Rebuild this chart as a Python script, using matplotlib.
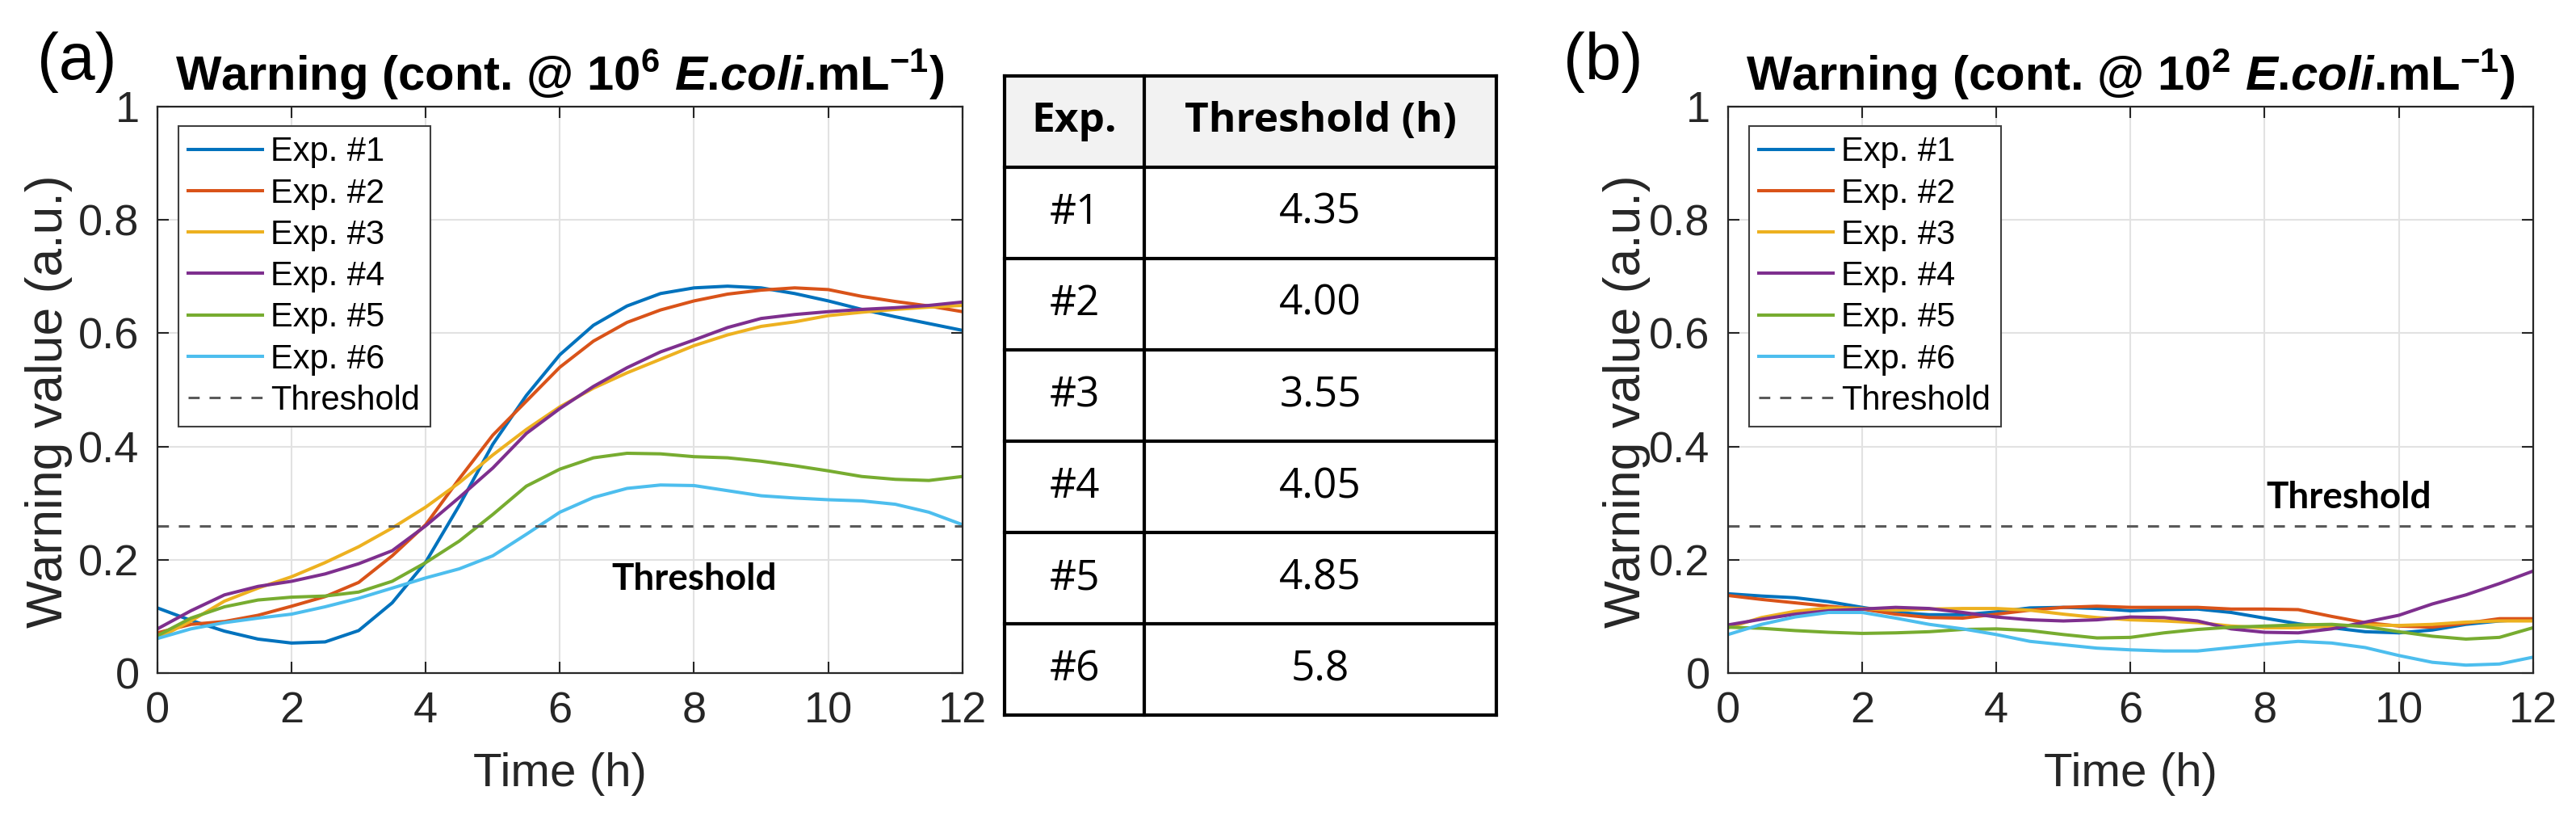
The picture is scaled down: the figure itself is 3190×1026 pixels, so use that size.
import matplotlib.pyplot as plt
from matplotlib.patches import Rectangle

plt.rcParams['font.family'] = ['Liberation Sans', 'DejaVu Sans']
plt.rcParams['mathtext.fontset'] = 'custom'
plt.rcParams['mathtext.default'] = 'regular'
plt.rcParams['mathtext.rm'] = 'Liberation Sans:bold'
plt.rcParams['mathtext.it'] = 'Liberation Sans:bold:italic'
plt.rcParams['mathtext.bf'] = 'Liberation Sans:bold'

# --- data ---
time_h = [0, 0.5, 1, 1.5, 2, 2.5, 3, 3.5, 4, 4.5, 5, 5.5, 6,
          6.5, 7, 7.5, 8, 8.5, 9, 9.5, 10, 10.5, 11, 11.5, 12]

exp_labels = ['Exp. #1', 'Exp. #2', 'Exp. #3', 'Exp. #4', 'Exp. #5', 'Exp. #6']
exp_colors = ['#0072BD', '#D95319', '#EDB120', '#7E2F8E', '#77AC30', '#4DBEEE']
threshold = 0.26

# (a) contamination @ 10^6 E.coli/mL
a_exp1 = [0.115, 0.093, 0.074, 0.060, 0.053, 0.055, 0.075, 0.124, 0.196, 0.296, 0.404, 0.490, 0.562,
          0.614, 0.648, 0.670, 0.680, 0.683, 0.680, 0.670, 0.657, 0.642, 0.629, 0.617, 0.605]
a_exp2 = [0.071, 0.086, 0.091, 0.102, 0.118, 0.135, 0.160, 0.207, 0.262, 0.343, 0.420, 0.480, 0.540,
          0.586, 0.619, 0.641, 0.657, 0.669, 0.676, 0.680, 0.677, 0.665, 0.656, 0.648, 0.638]
a_exp3 = [0.061, 0.092, 0.127, 0.150, 0.170, 0.195, 0.223, 0.256, 0.293, 0.336, 0.385, 0.430, 0.470,
          0.503, 0.530, 0.554, 0.578, 0.597, 0.612, 0.620, 0.631, 0.637, 0.642, 0.646, 0.649]
a_exp4 = [0.078, 0.110, 0.138, 0.153, 0.162, 0.175, 0.193, 0.216, 0.260, 0.310, 0.362, 0.423, 0.467,
          0.506, 0.539, 0.567, 0.588, 0.610, 0.626, 0.633, 0.638, 0.642, 0.645, 0.649, 0.655]
a_exp5 = [0.066, 0.097, 0.117, 0.129, 0.134, 0.136, 0.143, 0.162, 0.195, 0.233, 0.280, 0.330, 0.360,
          0.380, 0.388, 0.387, 0.382, 0.380, 0.374, 0.366, 0.357, 0.347, 0.342, 0.340, 0.347]
a_exp6 = [0.061, 0.078, 0.089, 0.097, 0.104, 0.117, 0.132, 0.150, 0.168, 0.184, 0.207, 0.245, 0.284,
          0.310, 0.326, 0.332, 0.331, 0.322, 0.313, 0.309, 0.306, 0.304, 0.298, 0.284, 0.262]

# (b) contamination @ 10^2 E.coli/mL
b_exp1 = [0.140, 0.136, 0.133, 0.126, 0.116, 0.107, 0.103, 0.103, 0.108, 0.115, 0.116, 0.114, 0.110,
          0.112, 0.113, 0.107, 0.097, 0.087, 0.080, 0.073, 0.071, 0.076, 0.086, 0.092, 0.095]
b_exp2 = [0.137, 0.130, 0.124, 0.118, 0.113, 0.104, 0.098, 0.097, 0.104, 0.111, 0.116, 0.118, 0.116,
          0.116, 0.116, 0.113, 0.113, 0.112, 0.100, 0.089, 0.083, 0.081, 0.088, 0.096, 0.096]
b_exp3 = [0.080, 0.098, 0.109, 0.115, 0.114, 0.111, 0.113, 0.114, 0.114, 0.111, 0.104, 0.098, 0.094,
          0.092, 0.089, 0.083, 0.080, 0.080, 0.083, 0.085, 0.084, 0.086, 0.090, 0.092, 0.092]
b_exp4 = [0.085, 0.095, 0.104, 0.110, 0.113, 0.116, 0.114, 0.107, 0.099, 0.094, 0.092, 0.094, 0.099,
          0.098, 0.092, 0.078, 0.072, 0.071, 0.078, 0.090, 0.102, 0.122, 0.138, 0.158, 0.180]
b_exp5 = [0.081, 0.079, 0.075, 0.072, 0.070, 0.071, 0.073, 0.077, 0.078, 0.075, 0.068, 0.062, 0.063,
          0.071, 0.077, 0.081, 0.083, 0.085, 0.086, 0.082, 0.073, 0.065, 0.060, 0.063, 0.080]
b_exp6 = [0.068, 0.086, 0.099, 0.107, 0.107, 0.097, 0.086, 0.078, 0.068, 0.056, 0.050, 0.044, 0.041,
          0.039, 0.039, 0.045, 0.051, 0.056, 0.053, 0.045, 0.031, 0.019, 0.014, 0.016, 0.028]

table_header = ['Exp.', 'Threshold (h)']
table_exp = ['#1', '#2', '#3', '#4', '#5', '#6']
table_time = ['4.35', '4.00', '3.55', '4.05', '4.85', '5.8']

xticks = [0, 2, 4, 6, 8, 10, 12]
yticks = [0, 0.2, 0.4, 0.6, 0.8, 1]
yticklabels = ['0', '0.2', '0.4', '0.6', '0.8', '1']

DARK = '#262626'


def plot_panel(ax, series, title, thr_xy, ylabel_x):
    for y, lab, col in zip(series, exp_labels, exp_colors):
        ax.plot(time_h, y, color=col, lw=2.9, label=lab, solid_joinstyle='round')
    ax.axhline(threshold, color='#5a5a5a', lw=2.2, dashes=(4.5, 4), label='Threshold')
    ax.text(thr_xy[0], thr_xy[1], 'Threshold', family='Lato', fontweight='bold',
            fontsize=33, ha='center', va='center', color='black')

    ax.set_xlim(0, 12)
    ax.set_ylim(0, 1)
    ax.set_xticks(xticks)
    ax.set_yticks(yticks)
    ax.set_yticklabels(yticklabels)
    ax.grid(True, color='#e2e2e2', lw=1.5)
    ax.set_axisbelow(True)
    ax.tick_params(direction='in', length=10, width=1.5, top=True, right=True,
                   labelsize=39, pad=16, colors=DARK)
    for sp in ax.spines.values():
        sp.set_color(DARK)
        sp.set_linewidth(1.6)

    ax.set_xlabel('Time (h)', fontsize=42, color=DARK)
    ax.xaxis.set_label_coords(0.5, -0.14)
    ax.set_ylabel('Warning value (a.u.)', fontsize=45, color=DARK)
    ax.yaxis.set_label_coords(ylabel_x, 0.48)
    ax.set_title(title, fontsize=43, fontweight='bold', color='black', pad=14)

    leg = ax.legend(loc='upper left', bbox_to_anchor=(0.026, 0.966), borderaxespad=0,
                    fontsize=30, handlelength=2.2, handletextpad=0.25, labelspacing=0.27,
                    borderpad=0.3, fancybox=False, framealpha=1)
    leg.get_frame().set_edgecolor('#404040')
    leg.get_frame().set_linewidth(1.5)
    for t in leg.get_texts():
        t.set_color('black')


def plot_table(ax):
    n_rows = len(table_exp) + 1
    split = 0.284
    ax.set_xlim(0, 1)
    ax.set_ylim(n_rows, 0)
    ax.axis('off')
    ax.add_patch(Rectangle((0, 0), 1, 1, facecolor='#f2f2f2', edgecolor='none'))
    for r in range(n_rows + 1):
        ax.plot([0, 1], [r, r], color='black', lw=3, clip_on=False, solid_capstyle='projecting')
    for c in [0, split, 1]:
        ax.plot([c, c], [0, n_rows], color='black', lw=3, clip_on=False, solid_capstyle='projecting')

    cx = [split / 2, (split + 1) / 2]
    for j, h in enumerate(table_header):
        ax.text(cx[j], 0.5, h, family='Open Sans', fontweight='bold', fontsize=37,
                ha='center', va='center')
    for i, (e, t) in enumerate(zip(table_exp, table_time)):
        ax.text(cx[0], i + 1.5, e, family='Open Sans', fontsize=37, ha='center', va='center')
        ax.text(cx[1], i + 1.5, t, family='Open Sans', fontsize=37, ha='center', va='center')


fig = plt.figure(figsize=(31.9, 10.26), dpi=100)

ax_a = fig.add_axes([0.0611, 0.1881, 0.3125, 0.6833])
plot_panel(ax_a, [a_exp1, a_exp2, a_exp3, a_exp4, a_exp5, a_exp6],
           r'Warning (cont. @ 10$^{6}$ $\mathit{E}$.$\mathit{coli}$.mL$^{-1}$)',
           (8.0, 0.165), -0.105)

ax_b = fig.add_axes([0.6708, 0.1881, 0.3125, 0.6833])
plot_panel(ax_b, [b_exp1, b_exp2, b_exp3, b_exp4, b_exp5, b_exp6],
           r'Warning (cont. @ 10$^{2}$ $\mathit{E}$.$\mathit{coli}$.mL$^{-1}$)',
           (9.25, 0.31), -0.096)

ax_t = fig.add_axes([0.390, 0.1374, 0.1909, 0.771])
plot_table(ax_t)

fig.text(95 / 3190, 1 - 77 / 1026, '(a)', fontsize=58, ha='center', va='center')
fig.text(1985 / 3190, 1 - 77 / 1026, '(b)', fontsize=58, ha='center', va='center')

fig.savefig('out.png', dpi=100)
